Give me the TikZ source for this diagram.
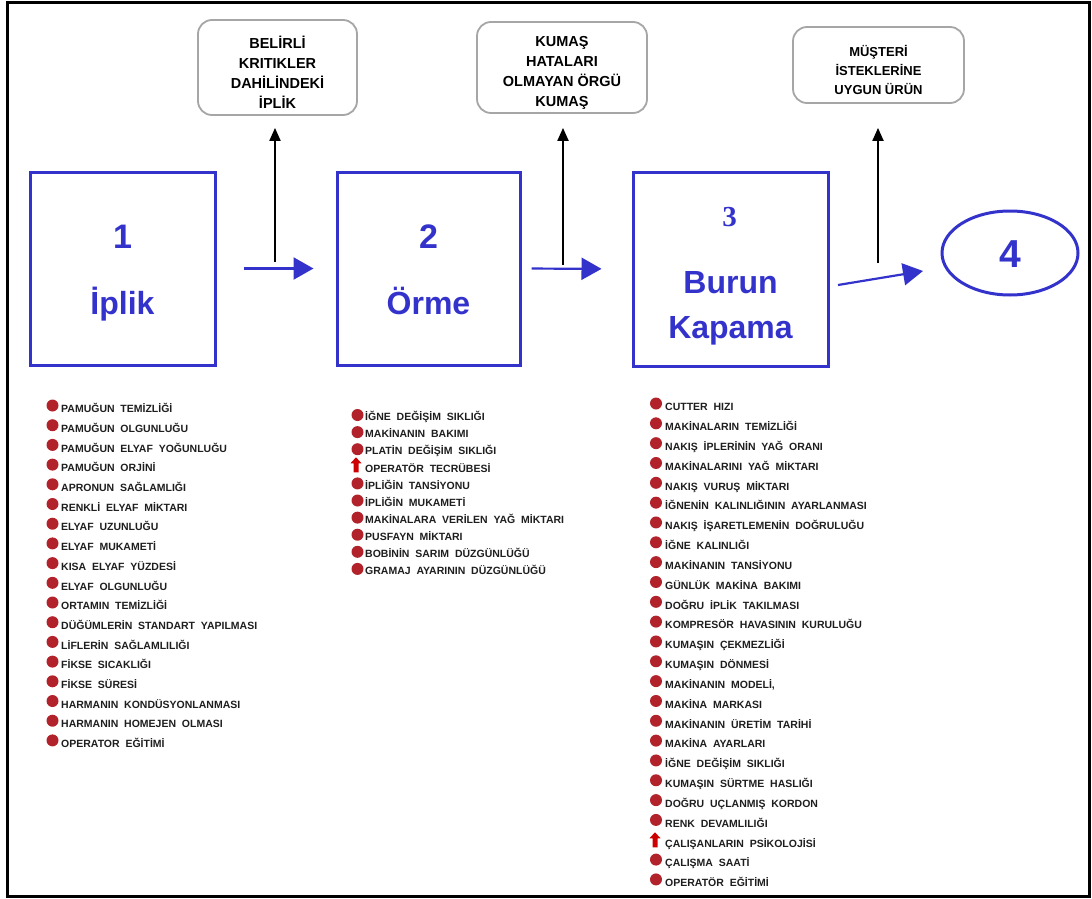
\documentclass[tikz,border=0pt]{standalone}
\usepackage{fontspec}
\setmainfont{Liberation Sans}
\newfontfamily\numserif{Liberation Serif}
\newfontfamily\listfont[WordSpace=2]{Liberation Sans}
\usetikzlibrary{arrows.meta,shapes.geometric,positioning}

\definecolor{boxblue}{RGB}{51,51,204}
\definecolor{bulred}{RGB}{178,34,42}
\definecolor{arrred}{RGB}{204,0,0}
\definecolor{outgray}{RGB}{166,166,166}
\definecolor{txtdark}{RGB}{30,30,30}

\begin{document}
\begin{tikzpicture}[x=1pt, y=-1pt,
    proc/.style={draw=boxblue, line width=3pt, minimum width=185pt, minimum height=193pt, inner sep=0pt},
    numf/.style={text=boxblue, font=\fontsize{34}{40}\selectfont\bfseries, anchor=base, inner sep=0pt},
    namef/.style={text=boxblue, font=\fontsize{32}{45}\selectfont\bfseries, anchor=base, inner sep=0pt},
    res/.style={draw=outgray, line width=1.8pt, rounded corners=14pt, inner sep=0pt},
    restxt/.style={align=center, font=\fontsize{14.5}{20}\selectfont\bfseries, inner sep=0pt},
    barr/.style={-{Triangle[length=20pt,width=22pt]}, draw=boxblue, line width=2.2pt},
    karr/.style={-{Triangle[length=13pt,width=11pt]}, line width=2pt},
    item/.style={anchor=west, inner sep=0pt, text=txtdark, font=\fontsize{10.5}{12}\listfont\bfseries, text height=7.5pt, text depth=0pt},
    bul/.style={fill=bulred},
    uparr/.style={fill=arrred}
]
\useasboundingbox (0,0) rectangle (1092,899);
\draw[line width=3pt] (7,3) rectangle (1089,896);

% process steps
\node[proc] (iplik) at (122.5,268.5) {};
\node[proc, minimum width=183pt] (orme) at (428.5,268.5) {};
\node[proc, minimum width=195pt, minimum height=194pt] (burun) at (730.5,269) {};
\node[draw=boxblue, line width=3pt, ellipse, minimum width=136pt, minimum height=84pt] (urun) at (1010,253) {};

\node[numf] (n1) at (122.5,248) {1};
\node[namef] (t1) at (122.5,314) {İplik};
\node[numf] (n2) at (428.5,248) {2};
\node[namef] (t2) at (428.5,314) {Örme};
\node[numf, font=\fontsize{29}{34}\selectfont\numserif\bfseries] (n3) at (729.5,226) {3};
\node[namef] (t3) at (730.5,293) {Burun};
\node[namef] (t3b) at (730.5,338) {Kapama};
\node[numf, font=\fontsize{39}{44}\selectfont\bfseries] (n4) at (1010,267) {4};

% outputs
\node[res, minimum width=159pt, minimum height=95pt] (outA) at (277.5,67.5) {};
\node[restxt] (outAt) at (277.5,72) {BELİRLİ\\KRITIKLER\\DAHİLİNDEKİ\\İPLİK};
\node[res, minimum width=170pt, minimum height=91pt] (outB) at (562,67.5) {};
\node[restxt] (outBt) at (562,73) {KUMAŞ\\HATALARI\\OLMAYAN ÖRGÜ\\KUMAŞ};
\node[res, minimum width=171pt, minimum height=76pt] (outC) at (878.5,65) {};
\node[restxt, font=\fontsize{13}{19}\selectfont\bfseries] (outCt) at (878.5,70) {MÜŞTERİ\\İSTEKLERİNE\\UYGUN ÜRÜN};

\draw[barr, shorten <=27pt, shorten >=22pt] (iplik.east) -- (orme.west);
\draw[barr, shorten <=10pt, shorten >=30pt] (orme.east) -- (burun.west);
\coordinate (s3) at (838,285);
\coordinate (e3) at (923,271);
\draw[barr] (s3) -- (e3);

\coordinate (j1) at (275,262);
\coordinate (j2) at (563,265);
\coordinate (j3) at (878,263);
\draw[karr, shorten >=12pt] (j1) -- (j1 |- outA.south);
\draw[karr, shorten >=14pt] (j2) -- (j2 |- outB.south);
\draw[karr, shorten >=24pt] (j3) -- (j3 |- outC.south);

% factor lists
\foreach \txt [count=\i] in {PAMUĞUN TEMİZLİĞİ, PAMUĞUN OLGUNLUĞU, PAMUĞUN ELYAF YOĞUNLUĞU, PAMUĞUN ORJİNİ, APRONUN SAĞLAMLIĞI, RENKLİ ELYAF MİKTARI, ELYAF UZUNLUĞU, ELYAF MUKAMETİ, KISA ELYAF YÜZDESİ, ELYAF OLGUNLUĞU, ORTAMIN TEMİZLİĞİ, DÜĞÜMLERİN STANDART YAPILMASI, LİFLERİN SAĞLAMLILIĞI, FİKSE SICAKLIĞI, FİKSE SÜRESİ, HARMANIN KONDÜSYONLANMASI, HARMANIN HOMEJEN OLMASI, OPERATOR EĞİTİMİ}{
  \node[item] (p\i) at (61,{409+(\i-1)*19.7}) {\txt};
  \fill[bul] ([shift={(-8.5pt,3.5pt)}]p\i.west) circle[radius=6pt];
}

\foreach \txt [count=\i] in {İĞNE DEĞİŞİM SIKLIĞI, MAKİNANIN BAKIMI, PLATİN DEĞİŞİM SIKLIĞI, OPERATÖR TECRÜBESİ, İPLİĞİN TANSİYONU, İPLİĞİN MUKAMETİ, MAKİNALARA VERİLEN YAĞ MİKTARI, PUSFAYN MİKTARI, BOBİNİN SARIM DÜZGÜNLÜĞÜ, GRAMAJ AYARININ DÜZGÜNLÜĞÜ}{
  \node[item] (o\i) at (365,{417+(\i-1)*17.1}) {\txt};
  \ifnum\i=4
    \fill[uparr] ([shift={(-9pt,11pt)}]o\i.west) -- ++(5.5pt,-6pt) -- ++(-3pt,0pt) -- ++(0pt,-9pt) -- ++(-5pt,0pt) -- ++(0pt,9pt) -- ++(-3pt,0pt) -- cycle;
  \else
    \fill[bul] ([shift={(-7.5pt,2pt)}]o\i.west) circle[radius=6pt];
  \fi
}

\foreach \txt [count=\i] in {CUTTER HIZI, MAKİNALARIN TEMİZLİĞİ, NAKIŞ İPLERİNİN YAĞ ORANI, MAKİNALARINI YAĞ MİKTARI, NAKIŞ VURUŞ MİKTARI, İĞNENİN KALINLIĞININ AYARLANMASI, NAKIŞ İŞARETLEMENİN DOĞRULUĞU, İĞNE KALINLIĞI, MAKİNANIN TANSİYONU, GÜNLÜK MAKİNA BAKIMI, DOĞRU İPLİK TAKILMASI, KOMPRESÖR HAVASININ KURULUĞU, KUMAŞIN ÇEKMEZLİĞİ, KUMAŞIN DÖNMESİ, {MAKİNANIN MODELİ,}, MAKİNA MARKASI, MAKİNANIN ÜRETİM TARİHİ, MAKİNA AYARLARI, İĞNE DEĞİŞİM SIKLIĞI, KUMAŞIN SÜRTME HASLIĞI, DOĞRU UÇLANMIŞ KORDON, RENK DEVAMLILIĞI, ÇALIŞANLARIN PSİKOLOJİSİ, ÇALIŞMA SAATİ, OPERATÖR EĞİTİMİ}{
  \node[item] (k\i) at (665,{407+(\i-1)*19.83}) {\txt};
  \ifnum\i=23
    \fill[uparr] ([shift={(-10pt,11pt)}]k\i.west) -- ++(5.5pt,-6pt) -- ++(-3pt,0pt) -- ++(0pt,-9pt) -- ++(-5pt,0pt) -- ++(0pt,9pt) -- ++(-3pt,0pt) -- cycle;
  \else
    \fill[bul] ([shift={(-9pt,3.5pt)}]k\i.west) circle[radius=6pt];
  \fi
}
\end{tikzpicture}
\end{document}
